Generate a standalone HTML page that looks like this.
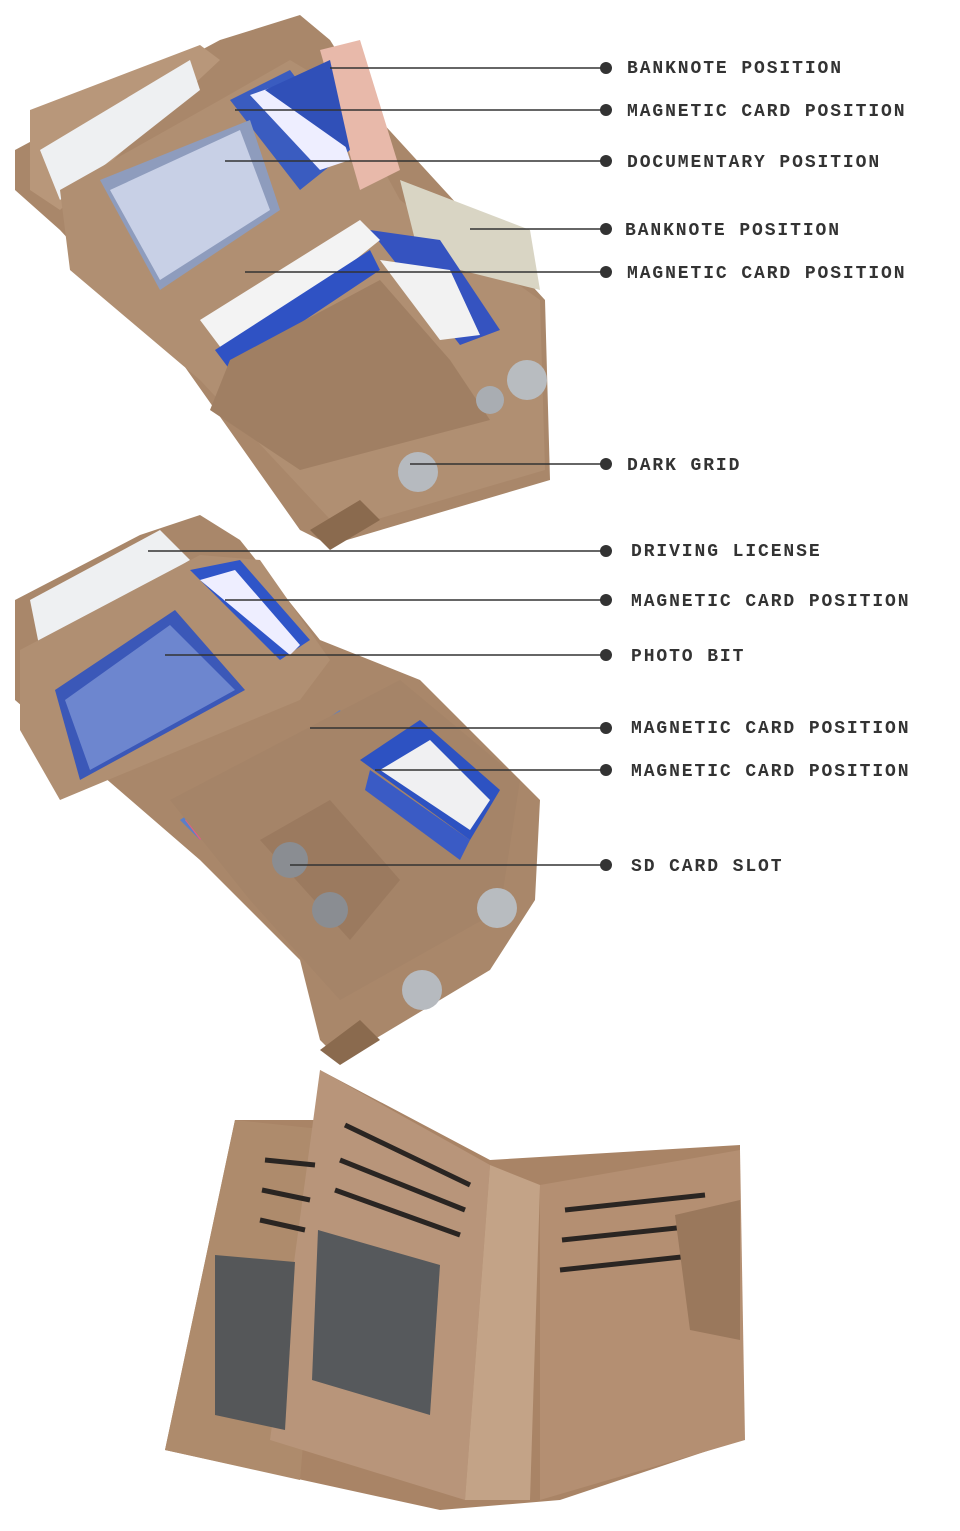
<!DOCTYPE html>
<html><head><meta charset="utf-8"><style>
html,body{margin:0;padding:0;background:#fff;width:960px;height:1531px;overflow:hidden}
svg{display:block}
text{font-family:"Liberation Mono",monospace;font-weight:bold;font-size:18px;letter-spacing:1.9px;fill:#333}
</style></head><body>
<svg width="960" height="1531" viewBox="0 0 960 1531">
<!-- Wallet 1 -->
<g>
<polygon points="15,150 220,40 300,15 330,40 380,120 545,300 550,480 330,545 300,530 180,360 60,230 15,190" fill="#a9876a"/>
<polygon points="30,110 200,45 220,60 60,210 30,190" fill="#b8977a"/>
<polygon points="40,150 190,60 200,90 60,200" fill="#eef0f2"/>
<polygon points="60,190 220,100 290,60 340,90 400,200 540,300 545,470 340,530 200,380 70,270" fill="#b08f72"/>
<polygon points="320,50 360,40 400,170 360,190" fill="#e8b9aa"/>
<polygon points="400,180 530,230 540,290 420,260" fill="#d9d5c4"/>
<polygon points="230,100 290,70 350,150 300,190" fill="#3a5cc0"/>
<polygon points="250,95 320,70 350,160 320,170" fill="#eef"/>
<polygon points="265,90 330,60 350,150" fill="#3050b8"/>
<polygon points="100,180 250,120 280,210 160,290" fill="#8e9cbd"/>
<polygon points="110,190 240,130 270,210 160,280" fill="#c8d0e6"/>
<polygon points="370,230 440,240 500,330 460,345" fill="#3553c0"/>
<polygon points="380,260 450,270 480,335 440,340" fill="#f2f2f2"/>
<polygon points="200,320 360,220 380,240 230,360" fill="#f3f3f3"/>
<polygon points="215,350 370,250 380,270 230,370" fill="#2f52c4"/>
<polygon points="230,360 380,280 450,360 490,420 300,470 210,410" fill="#a07f63"/>
<circle cx="527" cy="380" r="20" fill="#b8bcc0"/>
<circle cx="490" cy="400" r="14" fill="#a9adb2"/>
<circle cx="418" cy="472" r="20" fill="#b6babf"/>
<polygon points="310,530 360,500 380,520 330,550" fill="#8a6a4e"/>
</g>
<!-- Wallet 2 -->
<g>
<polygon points="15,600 140,535 200,515 240,540 320,640 420,680 540,800 535,900 490,970 340,1060 320,1040 300,960 200,860 15,700" fill="#a9876a"/>
<polygon points="30,600 160,530 190,560 40,650" fill="#eef0f2"/>
<polygon points="20,650 200,555 260,560 330,660 300,700 60,800 20,730" fill="#b08f72"/>
<polygon points="55,690 175,610 245,690 80,780" fill="#3b58b8"/>
<polygon points="65,700 170,625 235,690 90,770" fill="#6d86cf"/>
<polygon points="190,570 240,560 310,640 280,660" fill="#2f55c8"/>
<polygon points="200,580 235,570 300,645 290,655" fill="#eef"/>
<polygon points="180,820 340,710 355,740 200,840" fill="#5a7fc8"/>
<polygon points="185,820 260,770 270,790 200,840" fill="#e06080"/>
<polygon points="170,800 400,680 520,780 500,910 340,1000 250,900" fill="#a58468"/>
<polygon points="360,760 420,720 500,790 470,840" fill="#2d52c2"/>
<polygon points="380,770 430,740 490,800 470,830" fill="#f0f0f2"/>
<polygon points="370,770 470,840 460,860 365,790" fill="#3a5bc5"/>
<polygon points="260,840 330,800 400,880 350,940" fill="#9b7a5f"/>
<circle cx="290" cy="860" r="18" fill="#8a8d92"/>
<circle cx="330" cy="910" r="18" fill="#8a8d92"/>
<circle cx="497" cy="908" r="20" fill="#b8bcc0"/>
<circle cx="422" cy="990" r="20" fill="#b6babf"/>
<polygon points="320,1050 360,1020 380,1040 340,1065" fill="#8a6a4e"/>
</g>
<!-- Wallet 3 -->
<g>
<polygon points="235,1120 320,1120 320,1070 490,1160 740,1145 740,1440 560,1500 440,1510 165,1450" fill="#a98466"/>
<polygon points="235,1120 330,1130 300,1480 165,1450" fill="#ae8b6c"/>
<polygon points="320,1070 490,1165 465,1500 270,1440" fill="#b8957a"/>
<polygon points="490,1165 540,1185 530,1500 465,1500" fill="#c3a387"/>
<polygon points="540,1185 740,1150 745,1440 540,1500" fill="#b48f72"/>
<polygon points="215,1255 295,1262 285,1430 215,1415" fill="#555759"/>
<polygon points="318,1230 440,1265 430,1415 312,1380" fill="#56595c"/>
<g stroke="#2a2522" stroke-width="5">
<line x1="345" y1="1125" x2="470" y2="1185"/><line x1="340" y1="1160" x2="465" y2="1210"/><line x1="335" y1="1190" x2="460" y2="1235"/>
<line x1="265" y1="1160" x2="315" y2="1165"/><line x1="262" y1="1190" x2="310" y2="1200"/><line x1="260" y1="1220" x2="305" y2="1230"/>
<line x1="565" y1="1210" x2="705" y2="1195"/><line x1="562" y1="1240" x2="705" y2="1225"/><line x1="560" y1="1270" x2="700" y2="1255"/>
</g>
<polygon points="675,1215 740,1200 740,1340 690,1330" fill="#9a785c"/>
</g>
<!-- leader lines -->
<g stroke="#333" stroke-width="1.5">
<line x1="330" y1="68" x2="606" y2="68"/>
<line x1="235" y1="110" x2="606" y2="110"/>
<line x1="225" y1="161" x2="606" y2="161"/>
<line x1="470" y1="229" x2="606" y2="229"/>
<line x1="245" y1="272" x2="606" y2="272"/>
<line x1="410" y1="464" x2="606" y2="464"/>
<line x1="148" y1="551" x2="606" y2="551"/>
<line x1="225" y1="600" x2="606" y2="600"/>
<line x1="165" y1="655" x2="606" y2="655"/>
<line x1="310" y1="728" x2="606" y2="728"/>
<line x1="375" y1="770" x2="606" y2="770"/>
<line x1="290" y1="865" x2="606" y2="865"/>
</g>
<g fill="#333">
<circle cx="606" cy="68" r="6"/><circle cx="606" cy="110" r="6"/><circle cx="606" cy="161" r="6"/>
<circle cx="606" cy="229" r="6"/><circle cx="606" cy="272" r="6"/><circle cx="606" cy="464" r="6"/>
<circle cx="606" cy="551" r="6"/><circle cx="606" cy="600" r="6"/><circle cx="606" cy="655" r="6"/>
<circle cx="606" cy="728" r="6"/><circle cx="606" cy="770" r="6"/><circle cx="606" cy="865" r="6"/>
</g>
<text x="627" y="73">BANKNOTE POSITION</text>
<text x="627" y="116">MAGNETIC CARD POSITION</text>
<text x="627" y="167">DOCUMENTARY POSITION</text>
<text x="625" y="235">BANKNOTE POSITION</text>
<text x="627" y="278">MAGNETIC CARD POSITION</text>
<text x="627" y="470">DARK GRID</text>
<text x="631" y="556">DRIVING LICENSE</text>
<text x="631" y="606">MAGNETIC CARD POSITION</text>
<text x="631" y="661">PHOTO BIT</text>
<text x="631" y="733">MAGNETIC CARD POSITION</text>
<text x="631" y="776">MAGNETIC CARD POSITION</text>
<text x="631" y="871">SD CARD SLOT</text>
</svg>
</body></html>
